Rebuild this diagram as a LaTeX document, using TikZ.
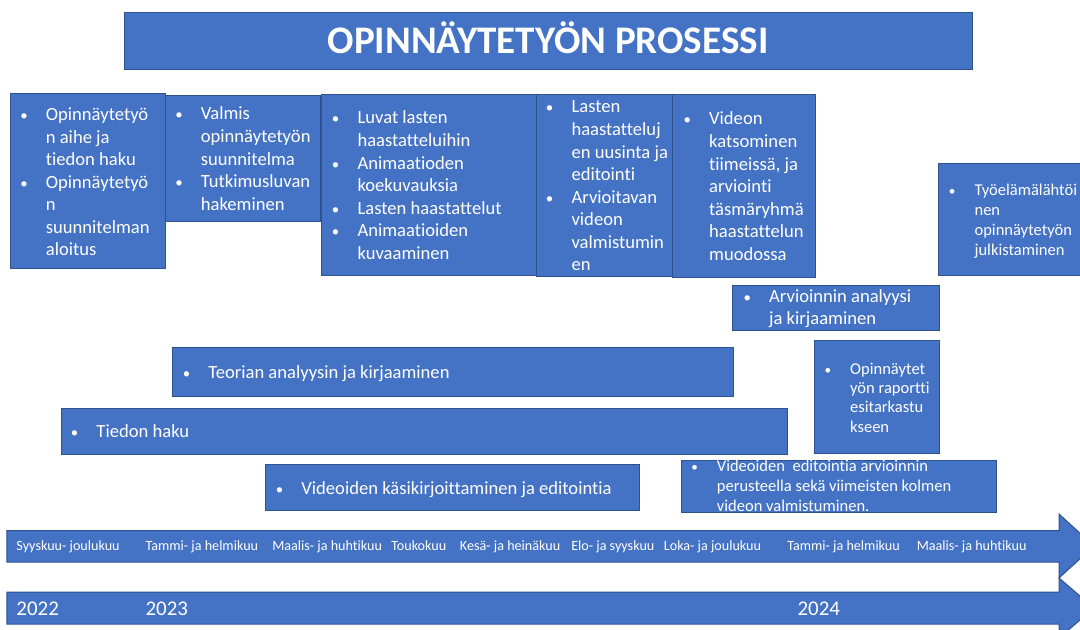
\documentclass[tikz,border=0pt]{standalone}
\usepackage{fontspec}
\setmainfont{Carlito}[Ligatures={NoCommon}]
\usetikzlibrary{fit}
\definecolor{blu}{HTML}{4472C4}
\definecolor{bord}{HTML}{2F528F}
\newlength\bw \setlength\bw{19.2pt}
\newcommand\bi[1]{\makebox[\bw][l]{\scalebox{0.8}{•}}#1}
\newcommand\bc[1]{\hspace*{\bw}#1}
\newcommand\blines[1]{\begin{tabular}[t]{@{}l@{}}#1\end{tabular}}
\begin{document}
\begin{tikzpicture}[x=0.75pt,y=-0.75pt,
  box/.style={draw=bord, fill=blu, line width=0.75pt, inner sep=0pt},
  txt/.style={text=white, inner sep=0pt, anchor=base west, font=\fontsize{13.95}{16.9}\selectfont},
  small/.style={text=white, inner sep=0pt, anchor=base west, font=\fontsize{12.3}{15}\selectfont},
  month/.style={text=white, inner sep=0pt, anchor=base west, font=\fontsize{10.6}{12}\selectfont},
  year/.style={text=white, inner sep=0pt, anchor=base west, font=\fontsize{15.7}{19}\selectfont},
  arrowshape/.style={draw=bord, fill=blu, line width=0.75pt}]
\useasboundingbox (0,0) rectangle (1080,630);
\clip (0,0) rectangle (1080,630);

% title
\node[box, fit={(124,13)(972,70)}] (T) {};
\node[text=white, inner sep=0pt, anchor=base, font=\fontsize{29.3}{34}\selectfont\bfseries] (Tt) at (548,54) {OPINNÄYTETYÖN PROSESSI};

% top row boxes
\node[box, fit={(10,93.3)(165.7,268.3)}] (A) {};
\node[txt] (At) at (20,120.7) {\blines{\bi{Opinnäytetyö}\\ \bc{n aihe ja}\\ \bc{tiedon haku}\\ \bi{Opinnäytetyö}\\ \bc{n}\\ \bc{suunnitelman}\\ \bc{aloitus}}};

\node[box, fit={(165.7,96)(320.7,221.7)}] (B) {};
\node[txt] (Bt) at (175,120) {\blines{\bi{Valmis}\\ \bc{opinnäytetyön}\\ \bc{suunnitelma}\\ \bi{Tutkimusluvan}\\ \bc{hakeminen}}};

\node[box, fit={(321.7,95)(536,276)}] (C) {};
\node[txt] (Ct) at (331.7,124) {\blines{\bi{Luvat lasten}\\ \bc{haastatteluihin}\\ \bi{Animaatioden}\\ \bc{koekuvauksia}\\ \bi{Lasten haastattelut}\\ \bi{Animaatioiden}\\ \bc{kuvaaminen}}};

\node[box, fit={(536,95)(673.3,276.7)}] (D) {};
\node[txt] (Dt) at (545.7,113) {\blines{\bi{Lasten}\\ \bc{haastatteluj}\\ \bc{en uusinta ja}\\ \bc{editointi}\\ \bi{Arvioitavan}\\ \bc{videon}\\ \bc{valmistumin}\\ \bc{en}}};

\node[box, fit={(672.7,95)(815,277.3)}] (E) {};
\node[txt] (Et) at (683.3,125) {\blines{\bi{Videon}\\ \bc{katsominen}\\ \bc{tiimeissä, ja}\\ \bc{arviointi}\\ \bc{täsmäryhmä}\\ \bc{haastattelun}\\ \bc{muodossa}}};

\node[box, fit={(938.7,163.7)(1085,276)}] (F) {};
\node[small, font=\fontsize{12.4}{15}\selectfont] (Ft) at (948.7,196) {\blines{\bi{Työelämälähtöi}\\ \bc{nen}\\ \bc{opinnäytetyön}\\ \bc{julkistaminen}}};

\node[box, fit={(732.7,285.3)(939,330.7)}] (G) {};
\node[txt, font=\fontsize{13.95}{16.5}\selectfont] (Gt) at (743.3,302.3) {\blines{\bi{Arvioinnin analyysi}\\ \bc{ja kirjaaminen}}};

\node[box, fit={(814.7,341)(939,453.3)}] (H) {};
\node[small, font=\fontsize{12.4}{14.5}\selectfont] (Ht) at (824.3,374.3) {\blines{\bi{Opinnäytet}\\ \bc{yön raportti}\\ \bc{esitarkastu}\\ \bc{kseen}}};

% long bars
\node[box, fit={(172,347.2)(733,396.5)}] (I) {};
\node[txt] (It) at (182.5,378.9) {\bi{Teorian analyysin ja kirjaaminen}};

\node[box, fit={(61,408.2)(787,454.3)}] (J) {};
\node[txt] (Jt) at (70.6,437.8) {\bi{Tiedon haku}};

\node[box, fit={(265.8,464.3)(639,510.8)}] (K) {};
\node[txt] (Kt) at (275.5,494.3) {\bi{Videoiden käsikirjoittaminen ja editointia}};

\node[box, fit={(681,460)(996.7,512.3)}] (L) {};
\node[small, font=\fontsize{12.4}{15.2}\selectfont] (Lt) at (691,471.3) {\blines{\bi{Videoiden~ editointia arvioinnin}\\ \bc{perusteella sekä viimeisten kolmen}\\ \bc{videon valmistuminen.}}};

% timeline arrows
\draw[arrowshape] (6.9,530.5) -- (1059,530.5) -- (1059,514) -- (1094,546) -- (1059,578) -- (1059,562) -- (6.9,562) -- cycle;
\draw[arrowshape] (6.9,592) -- (1059,592) -- (1059,578) -- (1094,608) -- (1059,638) -- (1059,624) -- (6.9,624) -- cycle;

\node[month] (m1) at (16.2,550.8) {Syyskuu- joulukuu};
\node[month] (m2) at (145.3,550.8) {Tammi- ja helmikuu};
\node[month] (m3) at (272,550.8) {Maalis- ja huhtikuu};
\node[month] (m4) at (391,550.8) {Toukokuu};
\node[month] (m5) at (459.7,550.8) {Kesä- ja heinäkuu};
\node[month] (m6) at (571,550.8) {Elo- ja syyskuu};
\node[month] (m7) at (663.6,550.8) {Loka- ja joulukuu};
\node[month] (m8) at (787,550.8) {Tammi- ja helmikuu};
\node[month] (m9) at (916.5,550.8) {Maalis- ja huhtikuu};

\node[year] (y1) at (16.2,615.9) {2022};
\node[year] (y2) at (145.3,615.9) {2023};
\node[year] (y3) at (797.3,615.9) {2024};
\end{tikzpicture}
\end{document}
